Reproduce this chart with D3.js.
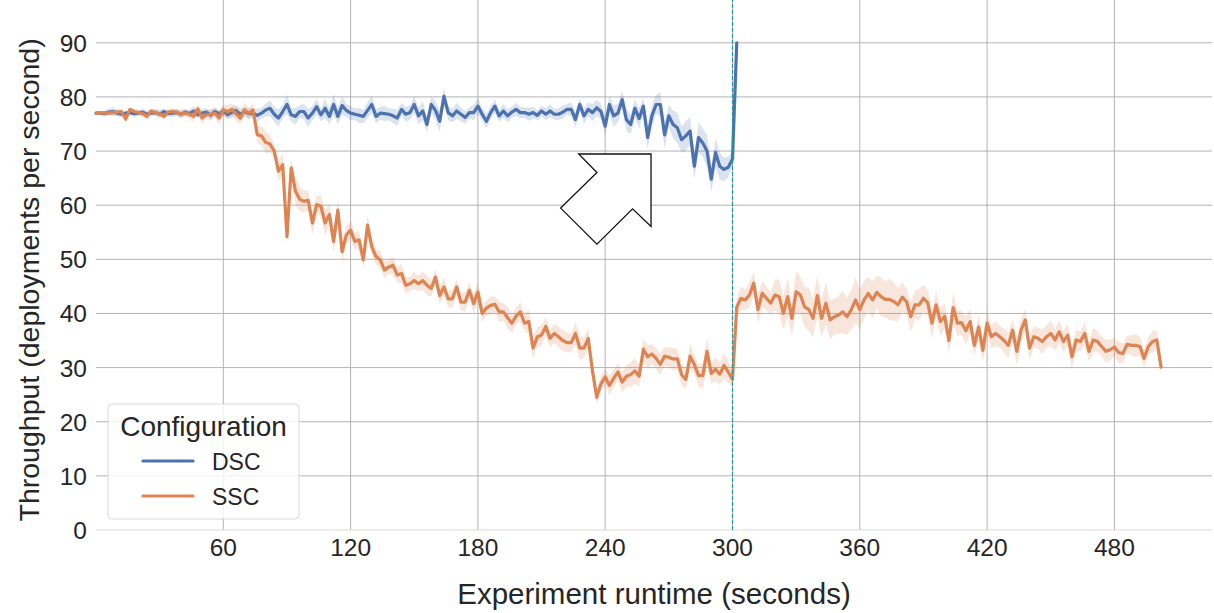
<!DOCTYPE html>
<html lang="en">
  <head>
    <meta charset="UTF-8" />
    <title>Throughput per configuration</title>
    <script src="https://d3js.org/d3.v7.min.js"></script>
    <style>
      body {
        margin: 0;
        background: #fff;
        font-family: 'Liberation Sans', Arial, sans-serif;
      }
      .grid line {
        stroke: #b3b3b3;
        stroke-width: 1;
      }
      .tick-label {
        fill: #262626;
        font-size: 24.5px;
      }
      .axis-title {
        fill: #262626;
        font-size: 28.5px;
      }
    </style>
  </head>
  <body>
    <svg width="1214" height="613"></svg>
    <script>
      // sample times (seconds), one sample every 2 s
      const seconds = d3.range(0, 504, 2);

      const series = ['DSC', 'SSC'];
      const colors = ['#4c72b0', '#dd8452'];

      // DSC mean throughput, t = 0..302
      const dscValues = [
        77.0, 77.0, 76.9, 77.2, 77.3, 77.0, 76.8, 77.0, 77.1, 76.9,
        77.0, 77.2, 76.8, 77.0, 77.1, 76.8, 77.3, 76.9, 77.0, 77.1,
        76.8, 77.2, 76.9, 77.4, 76.7, 77.0, 77.2, 76.6, 77.3, 76.9,
        77.4, 76.7, 77.1, 77.5, 76.8, 77.3, 76.9, 77.0, 76.6, 77.0,
        77.6, 77.9, 76.8, 76.1, 77.3, 78.6, 76.7, 76.4, 77.3, 77.3,
        76.1, 77.0, 78.2, 76.7, 77.9, 76.4, 78.6, 76.4, 78.4, 77.5,
        77.0, 76.8, 76.6, 76.4, 77.5, 78.6, 76.4, 77.0, 76.9, 76.8,
        76.5, 76.1, 77.7, 76.8, 77.1, 78.6, 76.5, 77.4, 74.9, 78.6,
        77.5, 75.5, 80.1, 77.1, 76.5, 77.4, 76.8, 76.2, 77.1, 77.1,
        78.3, 76.8, 75.5, 77.1, 78.3, 76.5, 77.4, 76.5, 77.2, 77.7,
        77.1, 77.1, 76.8, 77.1, 76.6, 77.4, 76.8, 77.4, 76.8, 76.8,
        77.2, 77.7, 77.7, 75.8, 78.6, 76.5, 77.7, 77.1, 78.0, 77.3,
        74.6, 78.6, 76.5, 77.0, 79.5, 75.8, 74.9, 77.9, 76.0, 78.3,
        72.5, 76.5, 78.6, 78.6, 73.0, 76.5, 74.9, 74.3, 72.1, 72.8,
        73.7, 67.2, 72.5, 71.5, 70.0, 64.8, 69.7, 67.2, 66.6, 67.0,
        68.5, 90.0,
      ];
      // DSC confidence half-width
      const dscSpread = [
        0.3, 0.4, 0.5, 0.6, 0.8, 0.6, 0.5, 0.4, 0.5, 0.6,
        0.5, 0.6, 0.7, 0.5, 0.6, 0.8, 0.6, 0.5, 0.7, 0.6,
        0.8, 0.6, 0.7, 0.9, 0.6, 0.8, 0.7, 0.9, 0.8, 0.7,
        0.9, 0.8, 1.0, 0.9, 1.1, 0.8, 1.0, 0.9, 1.2, 1.0,
        1.2, 1.5, 1.4, 1.6, 1.2, 1.8, 1.3, 1.5, 1.2, 1.4,
        1.6, 1.3, 1.5, 1.2, 1.8, 1.4, 2.0, 1.5, 1.7, 1.2,
        1.3, 1.1, 1.4, 1.2, 1.5, 1.6, 1.3, 1.2, 1.4, 1.1,
        1.3, 1.5, 1.2, 1.4, 1.3, 1.6, 1.5, 1.8, 1.4, 1.5,
        1.8, 2.0, 1.6, 1.4, 1.2, 1.5, 1.3, 1.2, 1.1, 1.4,
        1.5, 1.2, 1.4, 1.2, 1.3, 1.1, 1.3, 1.2, 1.0, 1.2,
        1.1, 1.0, 1.2, 1.1, 0.9, 1.0, 1.1, 1.2, 1.0, 1.1,
        1.2, 1.0, 1.3, 1.4, 1.2, 1.5, 1.3, 1.6, 1.5, 1.4,
        1.8, 1.6, 2.0, 1.7, 1.6, 2.1, 1.8, 1.6, 1.9, 1.5,
        2.2, 2.0, 1.8, 2.2, 2.5, 2.0, 2.6, 2.8, 2.4, 2.7,
        2.6, 2.3, 2.8, 2.6, 3.0, 2.4, 2.7, 2.5, 2.2, 1.9,
        1.4, 0.5,
      ];

      // SSC mean throughput, t = 0..502
      const sscValues = [
        77.0, 77.0, 77.1, 77.0, 77.1, 77.2, 77.3, 75.9, 77.7, 77.3,
        77.1, 76.9, 76.4, 77.4, 77.1, 76.9, 76.4, 77.2, 77.3, 77.2,
        76.8, 77.0, 76.8, 76.4, 77.8, 76.1, 76.7, 76.8, 77.0, 76.1,
        77.6, 77.3, 77.7, 76.9, 76.1, 77.6, 77.0, 77.6, 73.0, 72.8,
        71.6, 71.3, 70.0, 66.3, 67.5, 54.2, 66.9, 62.6, 61.1, 60.7,
        60.9, 56.7, 60.1, 59.8, 56.7, 58.3, 53.3, 59.1, 51.4, 54.5,
        55.4, 53.3, 53.6, 49.9, 56.3, 52.3, 50.5, 49.9, 48.0, 48.6,
        48.9, 47.1, 47.4, 45.2, 45.5, 46.1, 45.5, 46.1, 45.2, 44.6,
        46.7, 43.3, 44.9, 42.7, 42.7, 44.9, 42.1, 42.1, 44.3, 41.8,
        44.0, 40.0, 41.0, 41.5, 41.7, 40.3, 40.3, 39.2, 38.2, 39.5,
        40.3, 38.2, 38.5, 33.6, 35.7, 36.0, 37.6, 35.4, 36.3, 35.7,
        35.0, 34.6, 34.6, 36.3, 33.6, 33.6, 35.4, 29.4, 24.5, 27.0,
        28.3, 26.7, 28.0, 29.2, 27.3, 28.4, 28.7, 29.4, 28.4, 33.4,
        32.0, 32.5, 31.7, 30.6, 32.1, 31.9, 31.6, 31.6, 28.7, 27.8,
        32.1, 30.6, 28.5, 28.5, 33.0, 28.9, 29.7, 28.8, 30.4, 29.2,
        27.8, 41.2, 42.8, 42.5, 43.4, 45.6, 40.7, 43.7, 42.8, 41.9,
        43.4, 43.1, 40.0, 43.1, 39.1, 44.0, 43.4, 41.2, 40.7, 39.1,
        43.3, 39.1, 41.9, 38.8, 39.4, 39.7, 40.3, 39.4, 40.7, 42.5,
        40.7, 42.5, 43.7, 42.5, 43.9, 43.1, 42.6, 42.6, 42.2, 41.6,
        43.0, 42.2, 39.4, 41.6, 41.6, 42.8, 42.0, 38.2, 41.6, 38.5,
        39.5, 35.0, 41.1, 38.2, 38.3, 36.8, 38.5, 34.1, 37.5, 33.2,
        38.2, 35.7, 36.3, 35.7, 35.0, 34.1, 36.9, 33.0, 36.9, 38.8,
        33.6, 35.7, 35.4, 34.8, 35.7, 36.3, 35.1, 36.6, 34.8, 36.0,
        32.0, 35.1, 34.8, 36.3, 33.0, 35.1, 34.8, 33.9, 33.0, 33.3,
        33.8, 32.8, 32.6, 34.3, 34.1, 34.1, 33.9, 31.7, 33.9, 34.8,
        35.1, 30.1,
      ];
      // SSC confidence half-width
      const sscSpread = [
        0.3, 0.4, 0.4, 0.5, 0.4, 0.6, 0.5, 0.6, 0.5, 0.4,
        0.5, 0.6, 0.7, 0.5, 0.6, 0.5, 0.7, 0.6, 0.5, 0.6,
        0.7, 0.6, 0.8, 1.0, 0.9, 1.1, 0.8, 1.0, 0.9, 1.2,
        1.0, 1.3, 1.1, 1.4, 1.2, 1.3, 1.0, 1.2, 1.5, 1.8,
        2.0, 1.6, 1.4, 1.8, 2.0, 1.2, 1.8, 2.5, 2.2, 2.0,
        1.8, 2.2, 1.6, 2.0, 2.4, 1.9, 2.2, 1.8, 2.0, 1.6,
        1.8, 1.5, 1.7, 1.4, 1.9, 1.6, 1.4, 1.7, 1.5, 1.3,
        1.6, 1.4, 1.8, 1.5, 1.3, 1.6, 1.4, 1.7, 1.9, 1.5,
        1.4, 1.6, 1.8, 1.5, 1.7, 1.4, 1.6, 1.8, 1.5, 1.7,
        1.8, 1.6, 1.4, 1.7, 1.5, 1.9, 1.6, 2.0, 1.7, 1.5,
        1.8, 1.6, 2.2, 2.0, 1.8, 1.9, 1.7, 1.6, 1.8, 1.9,
        2.0, 1.8, 1.7, 2.1, 2.2, 1.9, 2.0, 1.8, 1.2, 1.5,
        1.6, 1.8, 1.5, 1.7, 1.9, 2.0, 2.2, 2.4, 1.9, 2.0,
        2.2, 1.8, 2.0, 1.9, 1.7, 1.8, 2.1, 1.9, 2.0, 1.8,
        2.3, 1.8, 2.0, 2.4, 2.6, 1.9, 2.2, 2.0, 2.3, 2.1,
        1.5, 1.6, 2.2, 1.9, 2.3, 2.0, 2.6, 2.4, 2.2, 2.0,
        2.8, 3.2, 3.0, 3.6, 3.2, 3.8, 3.4, 3.7, 4.0, 3.5,
        3.8, 3.4, 4.0, 3.6, 3.3, 3.5, 3.9, 3.4, 3.6, 4.2,
        3.7, 3.5, 3.1, 3.4, 3.0, 3.6, 3.3, 3.8, 3.5, 3.1,
        2.7, 2.4, 2.8, 2.6, 2.9, 2.5, 2.3, 2.7, 2.4, 2.6,
        2.3, 2.5, 2.8, 2.4, 2.2, 2.6, 2.3, 2.0, 2.4, 2.2,
        2.5, 2.1, 2.3, 2.0, 2.2, 2.4, 2.1, 2.6, 2.3, 2.0,
        2.2, 2.0, 1.9, 2.3, 2.1, 2.4, 2.0, 2.2, 1.9, 2.1,
        2.3, 2.0, 1.8, 2.1, 1.9, 2.2, 2.0, 1.8, 2.1, 1.9,
        1.7, 2.0, 1.8, 1.6, 1.9, 2.1, 1.8, 1.7, 1.6, 2.0,
        1.8, 1.5,
      ];

      const xTicks = [60, 120, 180, 240, 300, 360, 420, 480];
      const yTicks = [0, 10, 20, 30, 40, 50, 60, 70, 80, 90];
      const switchTime = 300;

      // block arrow annotation, (seconds, throughput)
      const arrowOutline = [
        [227.5, 69.45], [261.6, 69.45], [261.6, 56.06], [252.9, 59.33],
        [236.1, 52.8], [219.0, 59.46], [236.1, 66.05],
      ];

      const svg = d3.select('svg');
      const margin = { left: 96, right: 2, top: 0, bottom: 83 };
      const width = +svg.attr('width');
      const height = +svg.attr('height');

      const x = d3
        .scaleLinear()
        .domain([0, 526])
        .range([margin.left, width - margin.right]);
      const y = d3
        .scaleLinear()
        .domain([0, 97.9])
        .range([height - margin.bottom, margin.top]);

      // grid
      const grid = svg.append('g').attr('class', 'grid');
      grid
        .selectAll('.v')
        .data(xTicks)
        .enter()
        .append('line')
        .attr('x1', (d) => x(d))
        .attr('x2', (d) => x(d))
        .attr('y1', y.range()[0])
        .attr('y2', y.range()[1]);
      grid
        .selectAll('.h')
        .data(yTicks)
        .enter()
        .append('line')
        .attr('x1', x.range()[0])
        .attr('x2', x.range()[1])
        .attr('y1', (d) => y(d))
        .attr('y2', (d) => y(d))
        .style('stroke', (d) => (d === 0 ? '#d9d9d9' : null));

      // tick labels
      svg
        .selectAll('.xl')
        .data(xTicks)
        .enter()
        .append('text')
        .attr('class', 'tick-label')
        .attr('x', (d) => x(d))
        .attr('y', y(0) + 26)
        .attr('text-anchor', 'middle')
        .text((d) => d);
      svg
        .selectAll('.yl')
        .data(yTicks)
        .enter()
        .append('text')
        .attr('class', 'tick-label')
        .attr('x', x(0) - 9)
        .attr('y', (d) => y(d) + 9)
        .attr('text-anchor', 'end')
        .text((d) => d);

      svg
        .append('text')
        .attr('class', 'axis-title')
        .attr('x', (x.range()[0] + x.range()[1]) / 2)
        .attr('y', 604)
        .attr('text-anchor', 'middle')
        .style('font-size', '29.5px')
        .text('Experiment runtime (seconds)');
      svg
        .append('text')
        .attr('class', 'axis-title')
        .attr('transform', `translate(39,${y(46.2)}) rotate(-90)`)
        .attr('text-anchor', 'middle')
        .text('Throughput (deployments per second)');

      // series: band + line
      const tables = [
        dscValues.map((v, i) => ({ t: seconds[i], v, s: dscSpread[i] })),
        sscValues.map((v, i) => ({ t: seconds[i], v, s: sscSpread[i] })),
      ];

      const area = d3
        .area()
        .x((d) => x(d.t))
        .y0((d) => y(d.v - d.s))
        .y1((d) => y(d.v + d.s));
      const line = d3
        .line()
        .x((d) => x(d.t))
        .y((d) => y(d.v));

      tables.forEach((rows, k) => {
        svg
          .append('path')
          .attr('d', area(rows))
          .attr('fill', colors[k])
          .attr('fill-opacity', 0.2);
        svg
          .append('path')
          .attr('d', line(rows))
          .attr('fill', 'none')
          .attr('stroke', colors[k])
          .attr('stroke-width', 3.2)
          .attr('stroke-linejoin', 'round')
          .attr('stroke-linecap', 'round');
      });

      // switch marker
      svg
        .append('line')
        .attr('x1', x(switchTime))
        .attr('x2', x(switchTime))
        .attr('y1', y.range()[0])
        .attr('y2', y.range()[1])
        .attr('stroke', '#1f9a9a')
        .attr('stroke-width', 1.2)
        .attr('stroke-dasharray', '4,2');

      // arrow
      svg
        .append('path')
        .attr('d', d3.line().x((d) => x(d[0])).y((d) => y(d[1])).curve(d3.curveLinearClosed)(arrowOutline))
        .attr('fill', '#fff')
        .attr('stroke', '#111')
        .attr('stroke-width', 1.3);

      // legend
      const lg = svg.append('g').attr('transform', 'translate(108,404)');
      lg.append('rect')
        .attr('width', 191)
        .attr('height', 115)
        .attr('rx', 4)
        .attr('fill', '#fff')
        .attr('fill-opacity', 0.8)
        .attr('stroke', '#d9d9d9');
      lg.append('text')
        .attr('x', 95.5)
        .attr('y', 32)
        .attr('text-anchor', 'middle')
        .attr('fill', '#262626')
        .style('font-size', '28px')
        .text('Configuration');
      series.forEach((name, k) => {
        const yy = 57 + k * 35;
        lg.append('line')
          .attr('x1', 35)
          .attr('x2', 85)
          .attr('y1', yy)
          .attr('y2', yy)
          .attr('stroke', colors[k])
          .attr('stroke-width', 3.2)
          .attr('stroke-linecap', 'round');
        lg.append('text')
          .attr('x', 104)
          .attr('y', yy + 9)
          .attr('fill', '#262626')
          .style('font-size', '23px')
          .text(name);
      });
    </script>
  </body>
</html>
